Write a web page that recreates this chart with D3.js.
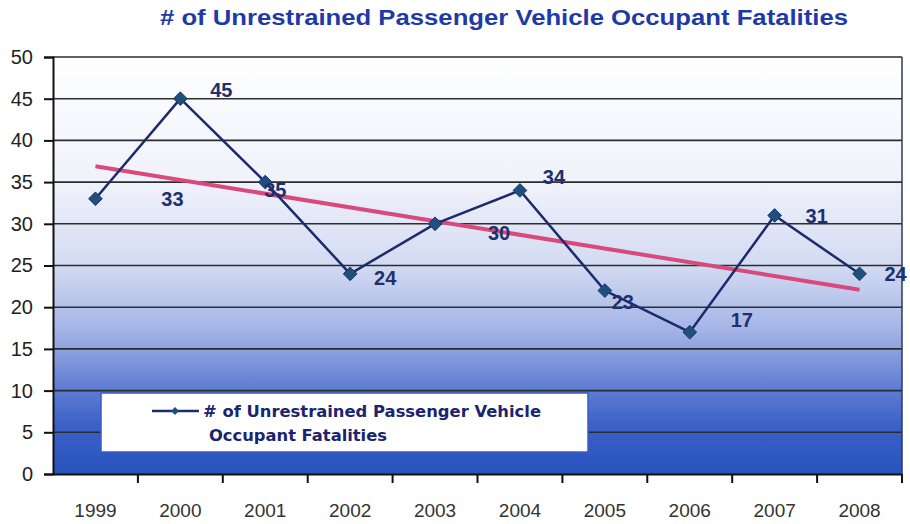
<!DOCTYPE html>
<html>
<head>
<meta charset="utf-8">
<script src="https://cdn.jsdelivr.net/npm/d3@7"></script>
<style>
  body { margin: 0; background: #fff; }
  svg { display: block; font-family: "Liberation Sans", Arial, sans-serif; }
</style>
</head>
<body>
<div id="plot"></div>
<script>
// chart values
var years = ["1999", "2000", "2001", "2002", "2003", "2004", "2005", "2006", "2007", "2008"];
var fatalities = [33, 45, 35, 24, 30, 34, 22, 17, 31, 24];
var pointLabels = ["33", "45", "35", "24", "30", "34", "23", "17", "31", "24"];
var trendEnds = [36.9, 22.1];
var yTicks = [0, 5, 10, 15, 20, 25, 30, 35, 40, 45, 50];

// label nudges as they sit in the picture (px)
var labelDx = [77, 41, 10, 35, 64, 34, 18, 52, 42, 36],
    labelDy = [0, -9, 8, 4, 9, -13, 11, -12, 1, 0];

var totalWidth = 910,
    totalHeight = 524;
var margin = {top: 57, right: 6, bottom: 50, left: 53};
var width = totalWidth - margin.left - margin.right,
    height = totalHeight - margin.top - margin.bottom;

var svg = d3.select("#plot").append("svg")
    .attr("width", totalWidth)
    .attr("height", totalHeight);

var grad = svg.append("defs").append("linearGradient")
    .attr("id", "bg")
    .attr("x1", 0).attr("y1", 0).attr("x2", 0).attr("y2", 1);
[[0, "#ffffff"], [0.3, "#f0f2fb"], [0.5, "#d3dbf2"], [0.66, "#a2b2e5"],
 [0.78, "#6682d5"], [0.88, "#3c62c8"], [1, "#2852bd"]].forEach(function(s) {
  grad.append("stop").attr("offset", s[0]).attr("stop-color", s[1]);
});

svg.append("text")
    .attr("x", 504)
    .attr("y", 25)
    .attr("text-anchor", "middle")
    .attr("textLength", 688)
    .attr("lengthAdjust", "spacingAndGlyphs")
    .style("font-size", "22px")
    .style("font-weight", "bold")
    .style("fill", "#1f3aa6")
    .text("# of Unrestrained Passenger Vehicle Occupant Fatalities");

var graph = svg.append("g")
    .attr("transform", "translate(" + margin.left + "," + margin.top + ")");

var x = d3.scaleBand().domain(years).range([0, width - 2]);
var y = d3.scaleLinear().domain([0, 50]).range([height, 0]);

graph.append("rect")
    .attr("width", width - 2)
    .attr("height", height)
    .style("fill", "url(#bg)");

// gridlines
graph.append("g")
    .selectAll("line")
    .data(yTicks.slice(1))
    .join("line")
    .attr("x1", 0).attr("x2", width - 2)
    .attr("y1", function(d) { return y(d); })
    .attr("y2", function(d) { return y(d); })
    .style("stroke", "#2a2e2e")
    .style("stroke-width", 1.6);

// right edge
graph.append("line")
    .attr("x1", width - 2).attr("x2", width - 2)
    .attr("y1", 0).attr("y2", height)
    .style("stroke", "#2c3a60")
    .style("stroke-width", 1.5);

var yAxis = graph.append("g")
    .call(d3.axisLeft(y).tickValues(yTicks).tickSize(9).tickPadding(11));
var xAxis = graph.append("g")
    .attr("transform", "translate(0," + height + ")")
    .call(d3.axisBottom(x).tickSize(0).tickPadding(30));
[yAxis, xAxis].forEach(function(a) {
  a.select(".domain").style("stroke", "#111").style("stroke-width", 2);
  a.selectAll(".tick line").style("stroke", "#111").style("stroke-width", 2);
  a.selectAll("text").style("font-size", "20px").style("fill", "#222")
      .style("font-family", "'Liberation Sans', Arial, sans-serif");
});
xAxis.selectAll("text").style("font-size", "19px").style("fill", "#333");
// category boundary ticks
graph.append("g")
    .selectAll("line")
    .data(years)
    .join("line")
    .attr("x1", function(d) { return x(d) + x.bandwidth(); })
    .attr("x2", function(d) { return x(d) + x.bandwidth(); })
    .attr("y1", height).attr("y2", height + 9)
    .style("stroke", "#111")
    .style("stroke-width", 2);

var cx = function(d, i) { return x(years[i]) + x.bandwidth() / 2; };

// trend line
graph.append("line")
    .attr("x1", x(years[0]) + x.bandwidth() / 2)
    .attr("x2", x(years[years.length - 1]) + x.bandwidth() / 2)
    .attr("y1", y(trendEnds[0]))
    .attr("y2", y(trendEnds[1]))
    .style("stroke", "#d94a7c")
    .style("stroke-width", 4);

var line = d3.line()
    .x(function(d, i) { return cx(d, i); })
    .y(function(d) { return y(d); });

graph.append("path")
    .datum(fatalities)
    .attr("d", line)
    .style("fill", "none")
    .style("stroke", "#1c2a6e")
    .style("stroke-width", 2.5);

graph.append("g")
    .selectAll("path")
    .data(fatalities)
    .join("path")
    .attr("transform", function(d, i) { return "translate(" + cx(d, i) + "," + y(d) + ")"; })
    .attr("d", d3.symbol().type(d3.symbolDiamond2).size(120))
    .style("fill", "#1f4f7c")
    .style("stroke", "#1c3a6a")
    .style("stroke-width", 1);

graph.append("g")
    .selectAll("text")
    .data(fatalities)
    .join("text")
    .attr("x", function(d, i) { return cx(d, i) + labelDx[i]; })
    .attr("y", function(d, i) { return y(d) + labelDy[i] + 7; })
    .attr("text-anchor", "middle")
    .style("font-size", "20px")
    .style("font-weight", "bold")
    .style("fill", "#20306e")
    .text(function(d, i) { return pointLabels[i]; });

// legend
var legend = svg.append("g").attr("transform", "translate(101,393)");
legend.append("rect")
    .attr("width", 487)
    .attr("height", 59)
    .style("fill", "#fff")
    .style("stroke", "#3b5cc0")
    .style("stroke-width", 1.5);
legend.append("line")
    .attr("x1", 51).attr("x2", 98)
    .attr("y1", 18).attr("y2", 18)
    .style("stroke", "#1c2a6e")
    .style("stroke-width", 2.5);
legend.append("path")
    .attr("transform", "translate(74,18)")
    .attr("d", d3.symbol().type(d3.symbolDiamond2).size(40))
    .style("fill", "#1f4f7c");
var lt = legend.append("text")
    .style("font-family", "'DejaVu Sans', Verdana, sans-serif")
    .style("font-size", "15px")
    .style("font-weight", "bold")
    .style("fill", "#1a2470");
lt.append("tspan").attr("x", 102).attr("y", 24).attr("textLength", 338)
    .attr("lengthAdjust", "spacingAndGlyphs")
    .text("# of Unrestrained  Passenger  Vehicle");
lt.append("tspan").attr("x", 108).attr("y", 48).attr("textLength", 178)
    .attr("lengthAdjust", "spacingAndGlyphs")
    .text("Occupant Fatalities");
</script>
</body>
</html>
